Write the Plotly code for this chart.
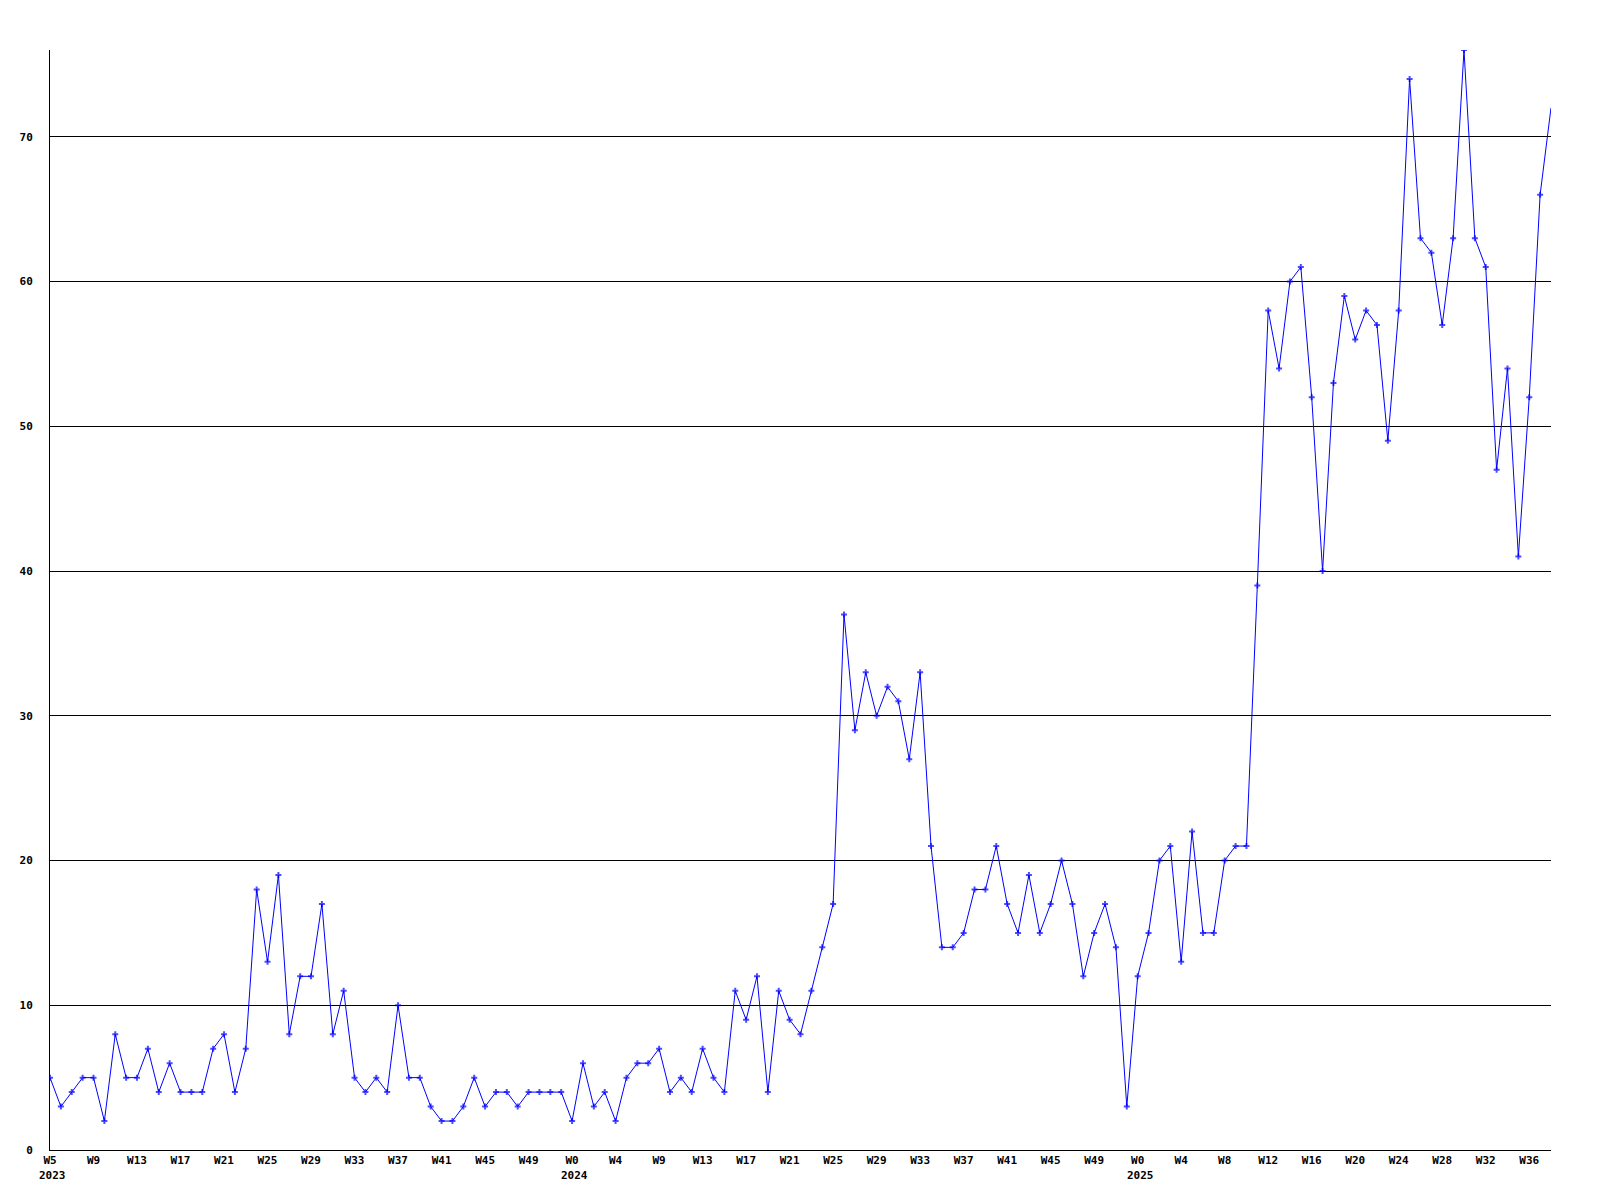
import plotly.graph_objects as go

# Weekly values, one point per week starting 2023 W5
values_2023 = [5, 3, 4, 5, 5, 2, 8, 5, 5, 7, 4, 6, 4, 4, 4, 7, 8, 4, 7, 18,
               13, 19, 8, 12, 12, 17, 8, 11, 5, 4, 5, 4, 10, 5, 5,
               3, 2, 2, 3, 5, 3, 4, 4, 3, 4, 4, 4, 4]
values_2024 = [2, 6, 3, 4, 2, 5, 6, 6, 7, 4, 5, 4, 7, 5, 4, 11, 9, 12, 4, 11,
               9, 8, 11, 14, 17, 37, 29, 33, 30, 32, 31, 27, 33, 21, 14, 14, 15, 18,
               18, 21, 17, 15, 19, 15, 17, 20, 17, 12, 15, 17, 14, 3]
values_2025 = [12, 15, 20, 21, 13, 22, 15, 15, 20, 21, 21, 39, 58, 54, 60, 61, 52,
               40, 53, 59, 56, 58, 57, 49, 58, 74, 63, 62, 57, 63, 76, 63, 61, 47,
               54, 41, 52, 66, 72]

tick_labels = ["W5", "W9", "W13", "W17", "W21", "W25", "W29", "W33", "W37", "W41", "W45", "W49",
               "W0", "W4", "W9", "W13", "W17", "W21", "W25", "W29", "W33", "W37", "W41", "W45", "W49",
               "W0", "W4", "W8", "W12", "W16", "W20", "W24", "W28", "W32", "W36"]
year_labels = ["2023", "2024", "2025"]
y_ticks = [0, 10, 20, 30, 40, 50, 60, 70]

values = values_2023 + values_2024 + values_2025
x = list(range(len(values)))
tick_positions = list(range(0, 4 * len(tick_labels), 4))
year_positions = [0, len(values_2023), len(values_2023) + len(values_2024)]

FONT = dict(family="DejaVu Sans Mono", size=11, color="black", weight="bold")

# the last (incomplete) week has no marker in the original
marker_sizes = [5] * (len(values) - 1) + [0]

fig = go.Figure()
fig.add_trace(go.Scatter(
    x=x, y=values, mode="lines+markers",
    line=dict(color="#0000ff", width=1),
    marker=dict(symbol="cross", size=marker_sizes, color="#0000ff", line=dict(width=0)),
    showlegend=False,
))

for pos, yl in zip(year_positions, year_labels):
    fig.add_annotation(x=pos, y=-0.0155, xref="x", yref="paper", text=yl,
                       showarrow=False, xanchor="left", yanchor="top",
                       xshift=-13, font=FONT)

fig.update_layout(
    width=1600, height=1200,
    margin=dict(l=42, r=57, t=42, b=58),
    paper_bgcolor="white", plot_bgcolor="white",
    xaxis=dict(range=[0, len(values) - 1], tickmode="array", tickvals=tick_positions,
               ticktext=tick_labels, showgrid=False, zeroline=False,
               showline=True, linecolor="black", linewidth=1, ticks="",
               tickfont=FONT, ticklabelstandoff=0),
    yaxis=dict(range=[0, 76], tickmode="array", tickvals=y_ticks,
               showgrid=True, gridcolor="black", gridwidth=1, zeroline=False,
               showline=True, linecolor="black", linewidth=1, ticks="",
               tickfont=FONT, ticklabelstandoff=14),
)

fig.write_html("out.html")
